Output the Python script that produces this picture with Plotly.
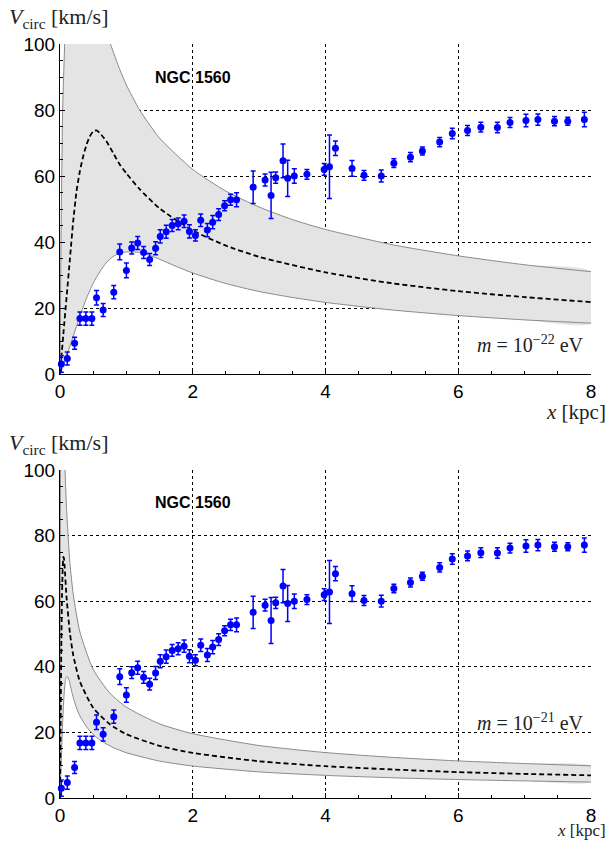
import plotly.graph_objects as go

# ---- observed rotation curve of NGC 1560 (same in both panels) ----
r_kpc = [0.02, 0.11, 0.22, 0.30, 0.39, 0.48, 0.55, 0.65, 0.81, 0.90, 1.00, 1.08, 1.17, 1.26,
         1.35, 1.44, 1.51, 1.60, 1.69, 1.78, 1.87, 1.95, 2.04, 2.12, 2.22, 2.30, 2.39, 2.48,
         2.57, 2.66, 2.91, 3.09, 3.18, 3.25, 3.36, 3.43, 3.53, 3.72, 3.98, 4.06, 4.15, 4.40,
         4.58, 4.84, 5.03, 5.28, 5.46, 5.72, 5.91, 6.14, 6.34, 6.59, 6.78, 7.02, 7.20, 7.45,
         7.65, 7.90]
v_obs = [3.0, 4.7, 9.3, 16.8, 16.8, 16.8, 23.1, 19.4, 24.8, 37.0, 31.4, 38.2, 39.7, 36.8,
         34.7, 38.1, 41.7, 43.1, 45.0, 45.5, 46.3, 43.2, 42.0, 46.6, 43.6, 46.0, 48.3, 51.0,
         52.8, 52.8, 56.6, 58.8, 54.1, 59.5, 64.6, 59.3, 60.0, 60.5, 62.0, 62.8, 68.4, 62.3,
         60.2, 60.0, 63.9, 65.7, 67.6, 70.3, 72.9, 73.8, 74.8, 74.7, 76.2, 76.8, 77.1, 76.6,
         76.6, 77.1]
v_err = [2.5, 2.0, 1.8, 2.0, 2.0, 2.0, 2.2, 2.0, 2.0, 2.4, 2.2, 1.8, 2.0, 1.8,
         1.8, 2.0, 2.0, 2.0, 1.8, 1.8, 1.9, 2.0, 1.7, 1.9, 2.0, 2.0, 1.8, 1.5,
         1.7, 2.1, 4.9, 1.8, 7.0, 1.7, 5.1, 5.5, 2.2, 1.5, 1.8, 9.6, 2.2, 2.4,
         1.5, 1.8, 1.3, 1.4, 1.2, 1.4, 1.6, 1.5, 1.5, 1.6, 1.5, 1.9, 1.7, 1.4,
         1.2, 2.2]

# ---- model curves, m = 1e-22 eV (top panel) ----
top_mid_x = [0, 0.05, 0.1, 0.15, 0.2, 0.25, 0.3, 0.35, 0.4, 0.45, 0.5, 0.55, 0.6, 0.7, 0.8,
             0.9, 1.0, 1.2, 1.5, 2.0, 2.5, 3.0, 4.0, 5.0, 6.0, 7.0, 8.0]
top_mid_v = [0, 12, 23.5, 35, 46.5, 55.5, 61.5, 66, 69.5, 72, 73.5, 73.8, 73, 70.5, 67,
             63.5, 60.8, 56, 50.2, 43.5, 38.9, 35.5, 30.8, 27.5, 25.1, 23.3, 21.8]
top_hi_x = [0, 0.02, 0.04, 0.07, 0.1, 0.15, 0.2, 0.3, 0.4, 0.5, 0.6, 0.7, 0.76, 0.9, 1.0,
            1.2, 1.5, 2.0, 2.5, 3.0, 3.5, 4.0, 5.0, 6.0, 7.0, 8.0]
top_hi_v = [0, 50, 80, 100, 120, 140, 150, 148, 138, 124, 113, 104, 100, 92.3, 87.6,
            80, 71.5, 62, 55.4, 50.6, 46.8, 43.8, 39.2, 35.8, 33.1, 31.0]
top_lo_x = [0, 0.05, 0.1, 0.2, 0.3, 0.4, 0.5, 0.6, 0.7, 0.8, 0.9, 1.0, 1.1, 1.2, 1.4, 1.6,
            1.8, 2.0, 2.5, 3.0, 3.5, 4.0, 5.0, 6.0, 7.0, 8.0]
top_lo_v = [0, 2.5, 5.5, 11.5, 17.5, 23, 27.5, 31, 33.8, 35.6, 36.6, 37.0, 37.0, 36.8, 35.6,
            33.9, 32.2, 30.6, 27.4, 25.0, 23.2, 21.7, 19.4, 17.7, 16.4, 15.4]

# ---- model curves, m = 1e-21 eV (bottom panel) ----
bot_mid_x = [0, 0.01, 0.02, 0.03, 0.04, 0.05, 0.06, 0.07, 0.1, 0.15, 0.2, 0.3, 0.5, 0.75,
             1.0, 1.5, 2.0, 3.0, 4.0, 5.0, 6.0, 7.0, 8.0]
bot_mid_v = [0, 23.5, 46.5, 61.5, 69.5, 73.5, 73.0, 70.5, 60.8, 50.2, 43.5, 35.5, 27.5, 22.5,
             19.45, 15.9, 13.75, 11.2, 9.7, 8.7, 7.9, 7.35, 6.9]
bot_hi_x = [0, 0.002, 0.004, 0.007, 0.01, 0.015, 0.02, 0.03, 0.04, 0.05, 0.06, 0.076, 0.1,
            0.15, 0.2, 0.3, 0.5, 0.75, 1.0, 1.5, 2.0, 3.0, 4.0, 5.0, 6.0, 7.0, 8.0]
bot_hi_v = [0, 50, 80, 100, 120, 140, 150, 148, 138, 124, 113, 100, 87.6,
            71.5, 62, 50.6, 39.2, 32.0, 27.7, 22.6, 19.6, 16.0, 13.85, 12.4, 11.3, 10.5, 9.8]
bot_lo_x = [0, 0.005, 0.01, 0.02, 0.03, 0.04, 0.05, 0.06, 0.07, 0.08, 0.09, 0.1, 0.11, 0.12,
            0.14, 0.16, 0.18, 0.2, 0.25, 0.3, 0.4, 0.5, 0.6, 0.8, 1.0, 1.5, 2.0, 3.0, 4.0,
            5.0, 6.0, 7.0, 8.0]
bot_lo_v = [0, 2.5, 5.5, 11.5, 17.5, 23, 27.5, 31, 33.8, 35.6, 36.6, 37.0, 37.0, 36.8,
            35.6, 33.9, 32.2, 30.6, 27.4, 25.0, 21.7, 19.4, 17.7, 15.4, 13.8, 11.25, 9.75,
            7.96, 6.9, 6.17, 5.63, 5.21, 4.87]

panels = [
    ("x", "y", top_mid_x, top_mid_v, top_hi_x, top_hi_v, top_lo_x, top_lo_v),
    ("x2", "y2", bot_mid_x, bot_mid_v, bot_hi_x, bot_hi_v, bot_lo_x, bot_lo_v),
]

fig = go.Figure()
BLUE = "#0000ff"
for xa, ya, mx, mv, hx, hv, lx, lv in panels:
    # shaded band
    fig.add_trace(go.Scatter(
        x=hx + lx[::-1], y=hv + lv[::-1], xaxis=xa, yaxis=ya,
        fill="toself", fillcolor="#e4e4e4", line=dict(width=0, shape="spline", smoothing=0.6),
        mode="lines", hoverinfo="skip", showlegend=False))
    for cx, cv in ((hx, hv), (lx, lv)):
        fig.add_trace(go.Scatter(
            x=cx, y=cv, xaxis=xa, yaxis=ya, mode="lines",
            line=dict(color="#8a8a8a", width=1, shape="spline", smoothing=0.6),
            showlegend=False))
    fig.add_trace(go.Scatter(
        x=mx, y=mv, xaxis=xa, yaxis=ya, mode="lines",
        line=dict(color="black", width=1.8, dash="5px,3px", shape="spline", smoothing=0.6),
        showlegend=False))
    fig.add_trace(go.Scatter(
        x=r_kpc, y=v_obs, xaxis=xa, yaxis=ya, mode="markers",
        marker=dict(color=BLUE, size=7),
        error_y=dict(type="data", array=v_err, color=BLUE, thickness=1.5, width=2.5),
        cliponaxis=False, showlegend=False))

axis_common = dict(
    showgrid=True, gridcolor="black", gridwidth=1, griddash="3px,3px",
    showline=True, linecolor="black", linewidth=1.2, zeroline=False,
    ticks="inside", ticklen=5, tickcolor="black",
    tickfont=dict(family="Liberation Sans, Arial", size=19, color="black"),
)
xcommon = dict(axis_common, range=[0, 8], dtick=2, tick0=0,
               minor=dict(dtick=0.5, ticks="inside", ticklen=3, tickcolor="black", showgrid=False))
ycommon = dict(axis_common, range=[0, 100], dtick=20, tick0=0,
               minor=dict(dtick=5, ticks="inside", ticklen=3, tickcolor="black", showgrid=False))

# plot area: 44 px from top, 43 px from bottom -> 754 px tall
fig.update_layout(
    width=608, height=841,
    margin=dict(l=60, r=15, t=44, b=43),
    plot_bgcolor="white", paper_bgcolor="white",
    xaxis=dict(xcommon, domain=[0, 1], anchor="y"),
    yaxis=dict(ycommon, domain=[424 / 754, 1.0], anchor="x"),
    xaxis2=dict(xcommon, domain=[0, 1], anchor="y2"),
    yaxis2=dict(ycommon, domain=[0.0, 328 / 754], anchor="x2"),
)

serif = "Liberation Serif, DejaVu Serif, serif"
annots = []
for yref, xref, xt_y, yt_y, expo, my, xsh, xfs in (("y", "x", 424 / 754, 1.0, "22", 9.2, -25, 21),
                                                    ("y2", "x2", 0.0, 328 / 754, "21", 23.2, -22, 17)):
    annots.append(dict(xref=xref, yref=yref, x=2.0, y=90, text="<b>NGC 1560</b>",
                       showarrow=False, font=dict(family="Liberation Sans, Arial", size=16, color="black")))
    annots.append(dict(xref=xref, yref=yref, x=7.92, y=my,
                       xanchor="right", yanchor="middle",
                       text="<i>m</i> = 10<sup>−" + expo + "</sup> eV",
                       showarrow=False, font=dict(family=serif, size=20, color="#222")))
    annots.append(dict(xref="paper", yref="paper", x=-0.099, y=yt_y, yshift=10,
                       xanchor="left", yanchor="bottom",
                       text="<i>V</i><sub>circ</sub> [km/s]",
                       showarrow=False, font=dict(family=serif, size=22, color="#222")))
    annots.append(dict(xref="paper", yref="paper", x=1.03, y=xt_y, yshift=xsh,
                       xanchor="right", yanchor="top", borderpad=0,
                       text="<i>x</i> [kpc]",
                       showarrow=False, font=dict(family=serif, size=xfs, color="#222")))
fig.update_layout(annotations=annots)

fig.write_html("out.html")
